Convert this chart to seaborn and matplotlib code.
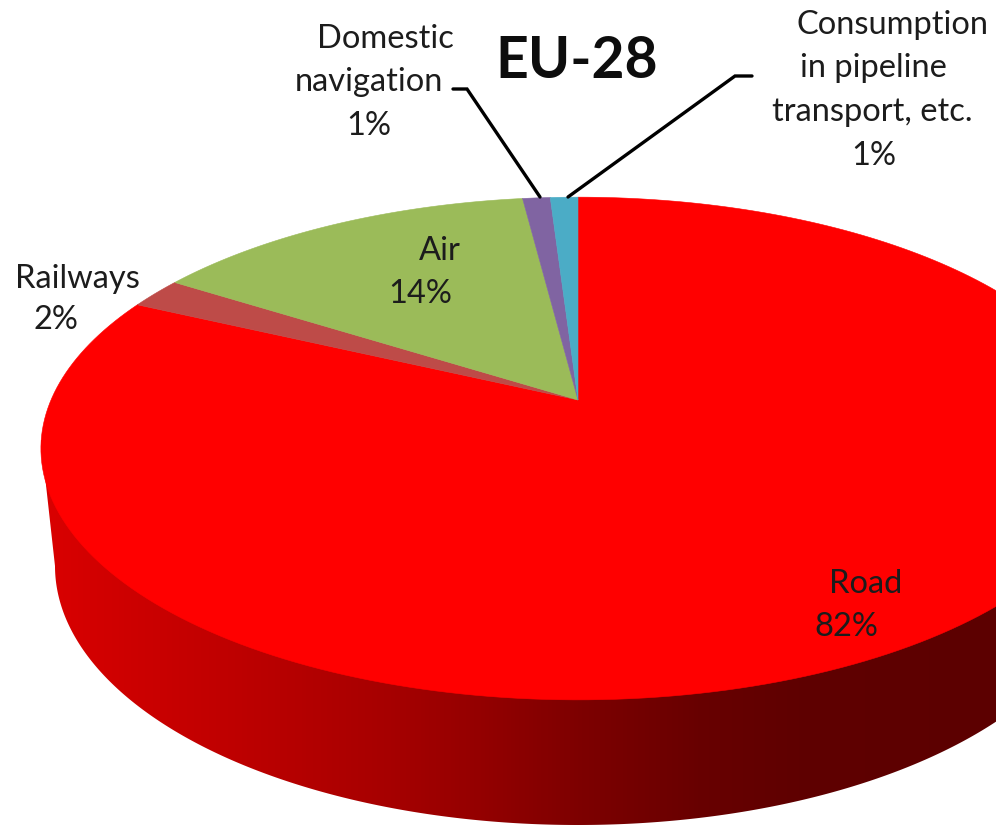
import numpy as np
import matplotlib
matplotlib.use("Agg")
import matplotlib.pyplot as plt
from matplotlib.colors import LinearSegmentedColormap
from matplotlib.patches import Polygon
import seaborn as sns

# Final energy consumption in transport, EU-28 (share in %)
categories = ["Road", "Railways", "Air", "Domestic navigation", "Consumption in pipeline transport, etc."]
shares = [82, 2, 14, 1, 1]
slice_colors = ["#FF0000", "#BE4B48", "#9BBB59", "#8064A2", "#4BACC6"]
title = "EU-28"

# Horizontal shading of the pie's rim: (pixel x, red level)
rim_x = [41, 130, 200, 300, 390, 480, 578, 700, 800, 996]
rim_red = [218, 205, 195, 180, 166, 148, 126, 104, 95, 92]

sns.set_theme(style="white")
plt.rcParams["font.family"] = ["Lato", "DejaVu Sans"]

W, H = 996, 825
fig = plt.figure(figsize=(W / 100, H / 100), dpi=100)
ax = fig.add_axes([0, 0, 1, 1])
ax.set_axis_off()

APEX = (578.0, 400.0)
K, A, B = 0.193, 527.0, 242.0


def tilt(turns):
    """Project clockwise turns from 12 o'clock on the unit circle onto the tilted pie."""
    t = 2 * np.pi * np.asarray(turns)
    x, y = np.sin(t), np.cos(t)
    w = 1 + K * y
    return APEX[0] + A * x / w, APEX[1] - B * y / w


# Rim: the region between the top ellipse and the lower ellipse
lower_arc = np.linspace(np.pi, 0, 361)
rim_outline = np.column_stack([
    np.r_[41, 578 + 523 * np.cos(lower_arc), 1115],
    np.r_[440, 566 + 259 * np.sin(lower_arc), 440],
])

stops = [((x - rim_x[0]) / (rim_x[-1] - rim_x[0]), (r / 255, 0, 0)) for x, r in zip(rim_x, rim_red)]
rim_cmap = LinearSegmentedColormap.from_list("rim", stops)
rim_image = ax.imshow(np.linspace(0, 1, 512)[None, :], cmap=rim_cmap, aspect="auto",
                      extent=(rim_x[0], rim_x[-1], H, 0), zorder=1)
rim_clip = Polygon(rim_outline, closed=True, transform=ax.transData)
rim_image.set_clip_path(rim_clip)

# Top face, one wedge per category
palette = sns.color_palette(slice_colors)
edges = np.r_[0, np.cumsum(shares)] / np.sum(shares)
for start, stop, color in zip(edges[:-1], edges[1:], palette):
    px, py = tilt(np.linspace(start, stop, 240))
    ax.fill(np.r_[APEX[0], px], np.r_[APEX[1], py], color=color, lw=0.4, zorder=2)

# Labels, one text per line
ink = "#1c1c1c"
FS = 23.5
label_lines = [
    (categories[0], 866, 584), (f"{shares[0]}%", 846, 627),
    (categories[1], 77, 279), (f"{shares[1]}%", 56, 320),
    (categories[2], 440, 251), (f"{shares[2]}%", 420, 294),
    ("Domestic", 385, 39), ("navigation", 369, 82), (f"{shares[3]}%", 369, 126),
    ("Consumption", 893, 25), ("in pipeline", 873, 68), ("transport, etc.", 872, 112),
    (f"{shares[4]}%", 874, 156),
]
for text, x, y in label_lines:
    ax.text(x, y, text, ha="center", va="center", fontsize=FS, color=ink, zorder=4)

ax.text(577, 61, title, ha="center", va="center", fontsize=41, fontweight="bold",
        color="#0d0d0d", zorder=4)

# Leader lines for the two thinnest slices
ax.plot([453, 467, 540], [89, 89, 197], color="black", lw=2.4, zorder=3, solid_joinstyle="miter")
ax.plot([752, 735, 568], [76, 76, 197], color="black", lw=2.4, zorder=3, solid_joinstyle="miter")

ax.set_xlim(0, W)
ax.set_ylim(H, 0)
fig.savefig("out.png", dpi=100, facecolor="white")
